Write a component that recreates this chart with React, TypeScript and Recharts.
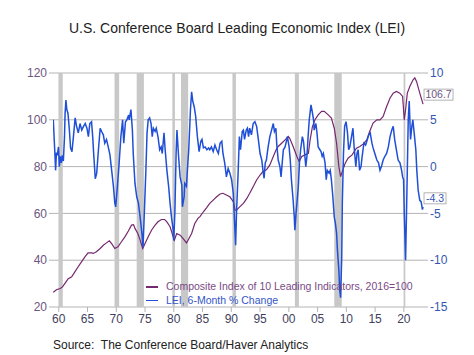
import { ComposedChart, Line, XAxis, YAxis, CartesianGrid, ReferenceArea, ReferenceDot } from 'recharts';

// Composite Index of 10 Leading Indicators, 2016=100 (left axis)
const compositeYears = [
  1959.05, 1959.6, 1960.25, 1960.65, 1961.05, 1961.65, 1962.25, 1962.8, 1963.35, 1963.95,
  1964.55, 1965.1, 1965.7, 1966.0, 1966.55, 1967.2, 1967.75, 1968.3, 1968.8, 1969.2,
  1969.75, 1970.3, 1970.9, 1971.5, 1972.1, 1972.65, 1973.0, 1973.25, 1973.75, 1974.15,
  1974.6, 1975.0, 1975.55, 1976.15, 1976.75, 1977.25, 1977.85, 1978.4, 1978.8, 1979.35,
  1979.9, 1980.1, 1980.5, 1981.1, 1981.6, 1982.2, 1982.5, 1983.1, 1983.65, 1984.2,
  1984.55, 1985.15, 1985.75, 1986.25, 1986.85, 1987.45, 1988.05, 1988.55, 1989.15, 1989.75,
  1990.35, 1990.65, 1990.9, 1991.5, 1992.1, 1992.7, 1993.2, 1993.8, 1994.4, 1995.0,
  1995.5, 1996.1, 1996.7, 1997.3, 1997.85, 1998.15, 1998.75, 1999.35, 1999.9, 2000.15,
  2000.75, 2001.4, 2001.8, 2002.25, 2002.8, 2003.4, 2003.7, 2004.1, 2004.55, 2005.1,
  2005.7, 2006.15, 2006.85, 2007.4, 2007.9, 2008.3, 2008.7, 2009.0, 2009.4, 2009.8,
  2010.3, 2011.0, 2011.75, 2012.35, 2012.95, 2013.55, 2014.05, 2014.65, 2015.3, 2015.85,
  2016.4, 2017.0, 2017.6, 2018.15, 2018.7, 2019.3, 2019.78, 2020.07, 2020.3, 2020.6,
  2021.05, 2021.6, 2021.9, 2022.2, 2022.77, 2023.33,
];
const compositeValues = [
  26.3, 27.4, 27.9, 28.6, 30.0, 32.1, 32.9, 35.0, 37.1, 39.3,
  41.4, 43.1, 43.1, 42.9, 43.6, 45.0, 46.4, 47.4, 48.3, 47.1,
  45.0, 45.7, 47.9, 50.0, 52.5, 55.0, 55.2, 53.6, 51.4, 48.6,
  45.0, 47.1, 50.0, 52.9, 55.0, 56.4, 57.4, 57.4, 56.4, 54.3,
  50.0, 48.6, 51.4, 50.7, 49.3, 47.4, 48.6, 51.4, 55.7, 57.9,
  58.6, 60.7, 62.6, 64.3, 65.7, 67.1, 68.3, 68.6, 67.9, 67.1,
  65.0, 61.4, 61.4, 62.9, 64.3, 66.4, 68.6, 71.4, 74.3, 76.4,
  77.9, 78.6, 80.7, 84.3, 87.5, 88.6, 90.0, 91.4, 92.9, 92.1,
  88.6, 84.3, 82.1, 84.3, 85.0, 85.7, 91.4, 97.1, 100.0, 102.1,
  103.6, 103.6, 102.1, 100.7, 96.4, 90.0, 80.0, 75.7, 78.6, 81.4,
  83.6, 85.0, 87.9, 88.6, 89.7, 91.4, 95.0, 98.6, 100.0, 100.0,
  101.4, 105.7, 109.3, 111.4, 112.1, 111.4, 110.0, 100.0, 104.3, 111.4,
  114.3, 117.1, 117.9, 116.4, 111.4, 106.7,
];

// LEI, 6-Month % Change (right axis)
const changeYears = [
  1959.05, 1959.35, 1959.45, 1959.6, 1959.75, 1959.95, 1960.1, 1960.25, 1960.45, 1960.6,
  1960.8, 1961.0, 1961.1, 1961.25, 1961.4, 1961.6, 1961.85, 1962.05, 1962.3, 1962.55,
  1962.85, 1963.1, 1963.4, 1963.7, 1964.0, 1964.3, 1964.6, 1964.9, 1965.15, 1965.4,
  1965.7, 1965.9, 1966.1, 1966.35, 1966.6, 1966.9, 1967.2, 1967.45, 1967.75, 1968.0,
  1968.3, 1968.6, 1968.9, 1969.2, 1969.5, 1969.75, 1969.9, 1970.2, 1970.5, 1970.8,
  1971.1, 1971.3, 1971.6, 1971.85, 1972.15, 1972.25, 1972.55, 1972.8, 1972.95, 1973.25,
  1973.55, 1973.85, 1974.15, 1974.45, 1974.65, 1974.85, 1975.15, 1975.35, 1975.55, 1975.8,
  1976.05, 1976.25, 1976.45, 1976.75, 1976.95, 1977.25, 1977.55, 1977.8, 1978.0, 1978.3,
  1978.5, 1978.8, 1979.1, 1979.35, 1979.6, 1979.9, 1980.0, 1980.2, 1980.4, 1980.55,
  1980.8, 1981.1, 1981.4, 1981.5, 1981.8, 1981.9, 1982.2, 1982.4, 1982.6, 1982.9,
  1983.1, 1983.3, 1983.55, 1983.8, 1984.1, 1984.4, 1984.7, 1984.9, 1985.15, 1985.45,
  1985.75, 1986.05, 1986.25, 1986.55, 1986.85, 1987.15, 1987.45, 1987.75, 1988.05, 1988.35,
  1988.55, 1988.85, 1989.15, 1989.45, 1989.75, 1990.05, 1990.35, 1990.55, 1990.75, 1990.9,
  1991.2, 1991.4, 1991.6, 1991.9, 1992.1, 1992.3, 1992.6, 1992.8, 1993.0, 1993.2,
  1993.5, 1993.8, 1994.1, 1994.4, 1994.7, 1995.0, 1995.3, 1995.5, 1995.7, 1995.9,
  1996.1, 1996.4, 1996.7, 1997.0, 1997.3, 1997.5, 1997.75, 1997.9, 1998.15, 1998.45,
  1998.65, 1998.85, 1999.05, 1999.35, 1999.65, 1999.75, 2000.05, 2000.25, 2000.45, 2000.75,
  2000.95, 2001.05, 2001.25, 2001.45, 2001.65, 2001.85, 2002.05, 2002.35, 2002.55, 2002.75,
  2002.95, 2003.15, 2003.35, 2003.55, 2003.85, 2004.0, 2004.3, 2004.4, 2004.7, 2004.9,
  2005.1, 2005.4, 2005.6, 2005.8, 2006.0, 2006.3, 2006.5, 2006.7, 2007.0, 2007.2,
  2007.4, 2007.65, 2007.9, 2008.1, 2008.3, 2008.45, 2008.7, 2008.85, 2009.0, 2009.2,
  2009.3, 2009.5, 2009.7, 2009.95, 2010.2, 2010.4, 2010.6, 2010.95, 2011.15, 2011.35,
  2011.65, 2011.85, 2012.05, 2012.3, 2012.55, 2012.75, 2013.05, 2013.35, 2013.65, 2013.9,
  2014.15, 2014.45, 2014.65, 2014.95, 2015.3, 2015.6, 2015.85, 2016.1, 2016.4, 2016.7,
  2017.0, 2017.3, 2017.6, 2017.9, 2018.15, 2018.4, 2018.7, 2019.0, 2019.32, 2019.61,
  2019.78, 2019.95, 2020.07, 2020.3, 2020.6, 2020.76, 2020.93, 2021.16, 2021.39, 2021.56,
  2021.79, 2022.08, 2022.25, 2022.48, 2022.77, 2023.0, 2023.23, 2023.33,
];
const changeValues = [
  5.0, 1.1, -0.4, 1.5, 1.2, 2.1, 0.0, 1.1, 0.4, 1.2,
  0.6, 3.2, 5.7, 7.1, 6.1, 5.7, 3.9, 2.0, 1.6, 3.2,
  5.2, 4.3, 3.6, 4.6, 3.9, 4.3, 4.6, 4.1, 3.2, 4.6,
  4.8, 3.2, 1.1, -1.3, -0.7, 1.8, 4.1, 3.75, 3.4, 2.5,
  2.9, 2.1, 1.25, -0.4, -2.1, -3.9, -4.3, -2.1, 0.4, 3.2,
  5.0, 2.5, 4.8, 5.0, 5.5, 5.0, 6.1, 3.9, 1.4, -1.8,
  -3.2, -3.9, -5.4, -7.1, -8.6, -5.4, -0.4, 3.6, 5.0, 5.2,
  4.6, 3.2, 4.1, 3.75, 4.1, 3.2, 1.8, 2.1, 1.4, 3.6,
  1.8, -0.4, -2.1, -3.9, -5.4, -6.8, -7.9, -4.6, 1.4, 3.9,
  1.4, -1.1, -2.0, -4.3, -3.2, -1.8, -2.1, 0.0, 1.8, 6.1,
  8.0, 7.0, 6.4, 5.4, 3.2, 1.6, 2.7, 2.9, 2.0, 2.1,
  1.8, 2.0, 1.8, 2.1, 1.6, 2.3, 1.8, 1.4, 2.5, 2.7,
  1.4, 0.4, -1.1, -0.2, -0.7, -1.4, -2.9, -5.7, -8.4, -5.0,
  -0.4, 3.2, 1.8, 3.75, 3.9, 2.9, 3.9, 4.1, 3.2, 4.1,
  3.4, 4.6, 4.8, 4.3, 2.9, 1.4, 0.7, -0.4, -1.25, 0.4,
  0.7, 2.1, 3.2, 3.9, 4.6, 3.75, 4.1, 2.4, 0.7, 0.0,
  -1.1, 0.4, 1.8, 2.1, 2.9, 3.2, 2.1, 0.7, -1.4, -3.6,
  -5.4, -6.8, -5.0, -3.6, -2.1, 0.4, 1.8, 3.2, 2.7, 1.4,
  0.0, 1.1, 3.2, 5.0, 6.6, 6.1, 5.0, 3.9, 4.6, 3.6,
  2.1, 1.8, 1.6, 1.1, 1.4, 0.4, -1.4, -0.4, -0.7, -0.4,
  -1.4, -3.2, -5.4, -6.1, -7.1, -8.9, -11.1, -13.2, -14.0, -9.6,
  -3.9, 1.4, 4.3, 4.8, 3.6, 1.8, 2.1, 3.4, 4.1, 2.1,
  0.0, 1.4, 1.8, -0.4, 0.0, 1.1, 2.5, 2.3, 2.9, 3.4,
  3.6, 2.5, 2.0, 1.4, 0.7, 0.4, -0.4, 0.0, 0.7, 1.1,
  1.4, 2.1, 3.2, 3.9, 4.3, 2.9, 1.8, 0.7, 0.4, -0.4,
  -1.1, -1.4, -5.0, -10.0, -0.4, 5.0, 7.0, 2.9, 4.3, 5.0,
  3.6, 1.8, -0.4, -2.5, -3.6, -3.75, -4.6, -4.3,
];

// recession shading
const recessionStarts = [1959.95, 1969.7, 1973.55, 1979.75, 1981.25, 1990.2, 2001.05, 2007.9, 2019.95];
const recessionEnds = [1960.7, 1970.5, 1974.8, 1980.2, 1982.5, 1990.8, 2001.75, 2009.2, 2020.25];

const yearTicks = [1960, 1965, 1970, 1975, 1980, 1985, 1990, 1995, 2000, 2005, 2010, 2015, 2020];
const indexTicks = [20, 40, 60, 80, 100, 120];
const changeTicks = [-15, -10, -5, 0, 5, 10];

const compositeData = compositeYears.map((year, i) => ({ year, value: compositeValues[i] }));
const changeData = changeYears.map((year, i) => ({ year, value: changeValues[i] }));

const FONT = '"Liberation Sans", Arial, sans-serif';
const PURPLE = '#74286f';
const BLUE = '#1f4fd6';
const PURPLE_TEXT = '#6c5680';
const BLUE_TEXT = '#3556b0';
const GRID = '#b4b4b4';

const lastComposite = compositeData[compositeData.length - 1];
const lastChange = changeData[changeData.length - 1];

function ValueBox({ cx, cy, text, color, width, dy }: any) {
  return (
    <g>
      <rect x={cx + 1} y={cy + dy} width={width} height={11} fill="#fff" stroke="#a0a0a0" strokeWidth={0.8} />
      <text x={cx + 1 + width / 2} y={cy + dy + 9} textAnchor="middle" fontSize={10.5} fill={color} fontFamily={FONT}>
        {text}
      </text>
    </g>
  );
}

export default function App() {
  return (
    <div style={{ position: 'absolute', left: 0, top: 0, width: 474, height: 355, background: '#fff', fontFamily: FONT }}>
      <div style={{ position: 'absolute', top: 21, left: 0, width: 474, textAlign: 'center', fontSize: 14, lineHeight: '14px', color: '#222' }}>
        U.S. Conference Board Leading Economic Index (LEI)
      </div>
      <ComposedChart width={474} height={355} margin={{ top: 73, right: 0, bottom: 0, left: 0 }} style={{ fontFamily: FONT }}>
        {recessionStarts.map((start, i) => (
          <ReferenceArea
            key={`rec-${start}`}
            yAxisId="left"
            x1={start}
            x2={recessionEnds[i]}
            y1={20}
            y2={120}
            fill="#c8c8c8"
            fillOpacity={1}
            stroke="none"
          />
        ))}
        <CartesianGrid yAxisId="left" vertical={false} stroke={GRID} strokeWidth={1} />
        <XAxis
          dataKey="year"
          type="number"
          domain={[1959, 2023.5]}
          ticks={yearTicks}
          allowDataOverflow
          height={48}
          axisLine={false}
          tickSize={5}
          tickLine={{ stroke: GRID }}
          tick={{ fill: '#3f3f5e', fontSize: 12 }}
          tickFormatter={(v: number) => String(v).slice(2)}
        />
        <YAxis
          yAxisId="left"
          orientation="left"
          domain={[20, 120]}
          ticks={indexTicks}
          width={53}
          axisLine={false}
          tickSize={4}
          tickLine={{ stroke: GRID }}
          tick={{ fill: PURPLE_TEXT, fontSize: 12 }}
        />
        <YAxis
          yAxisId="right"
          orientation="right"
          domain={[-15, 10]}
          ticks={changeTicks}
          width={50}
          axisLine={false}
          tickSize={4}
          tickLine={{ stroke: GRID }}
          tick={{ fill: BLUE_TEXT, fontSize: 12 }}
        />
        <Line
          yAxisId="left"
          data={compositeData}
          dataKey="value"
          stroke={PURPLE}
          strokeWidth={1.2}
          dot={false}
          isAnimationActive={false}
        />
        <Line
          yAxisId="right"
          data={changeData}
          dataKey="value"
          stroke={BLUE}
          strokeWidth={1.5}
          dot={false}
          isAnimationActive={false}
        />
        <ReferenceDot
          yAxisId="left"
          x={lastComposite.year}
          y={lastComposite.value}
          ifOverflow="visible"
          shape={(p: any) => <ValueBox cx={p.cx} cy={p.cy} text={lastComposite.value.toFixed(1)} color={PURPLE_TEXT} width={29} dy={-15} />}
        />
        <ReferenceDot
          yAxisId="right"
          x={lastChange.year}
          y={lastChange.value}
          ifOverflow="visible"
          shape={(p: any) => <ValueBox cx={p.cx} cy={p.cy} text={lastChange.value.toFixed(1)} color={BLUE_TEXT} width={22} dy={-14} />}
        />
      </ComposedChart>
      <div style={{ position: 'absolute', left: 146, top: 280, fontSize: 10.5, lineHeight: '13.5px' }}>
        <div style={{ display: 'flex', alignItems: 'center', color: '#7a4a86' }}>
          <span style={{ display: 'inline-block', width: 12, height: 1.5, background: PURPLE, marginRight: 8 }} />
          Composite Index of 10 Leading Indicators, 2016=100
        </div>
        <div style={{ display: 'flex', alignItems: 'center', color: '#3356c8' }}>
          <span style={{ display: 'inline-block', width: 12, height: 1.5, background: BLUE, marginRight: 8 }} />
          LEI, 6-Month % Change
        </div>
      </div>
      <div style={{ position: 'absolute', left: 53, top: 339, fontSize: 12, lineHeight: '13px', color: '#222', whiteSpace: 'pre' }}>
        {'Source:  The Conference Board/Haver Analytics'}
      </div>
    </div>
  );
}
